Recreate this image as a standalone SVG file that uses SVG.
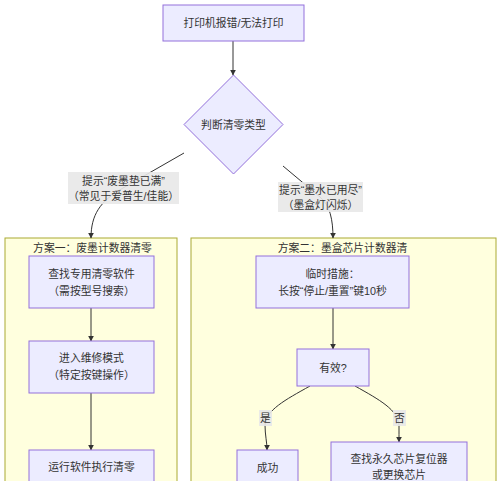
<svg xmlns="http://www.w3.org/2000/svg" width="500" height="481" viewBox="0 0 500 481">
<defs>
<marker id="arr" viewBox="0 0 10 10" refX="9" refY="5" markerWidth="6" markerHeight="6" markerUnits="userSpaceOnUse" orient="auto">
<path d="M0,0 L10,5 L0,10 z" fill="#333"/>
</marker>
</defs>
<style>
text{font-family:"Liberation Sans","Noto Sans CJK SC",sans-serif;font-size:10.8px;fill:#333;text-anchor:middle;dominant-baseline:central}
.node{fill:#ececff;stroke:#9370db;stroke-width:1}
.cluster{fill:#ffffde;stroke:#aaaa33;stroke-width:1}
.edge{fill:none;stroke:#333;stroke-width:1;marker-end:url(#arr)}
.lbl{fill:#e8e8e8;opacity:0.9}
</style>
<rect width="500" height="481" fill="#fff"/>
<g id="cluster1"><rect class="cluster" x="5" y="238" width="172" height="260"/><text x="92.5" y="248">方案一：废墨计数器清零</text></g>
<g id="cluster2"><rect class="cluster" x="191" y="238" width="305" height="260"/><text x="342.5" y="248">方案二：墨盒芯片计数器清</text></g>
<g id="connectors">
<path class="edge" d="M233,41 L233,75"/>
<path class="edge" d="M184,153 L123,188 C100,201 91,215 91,238"/>
<path class="edge" d="M283,166 L320,197 C330,205 333,220 333,238"/>
<path class="edge" d="M91,308 L91,341"/>
<path class="edge" d="M91,393 L91,450"/>
<path class="edge" d="M333,308 L333,349"/>
<path class="edge" d="M310,386 C285,400 266,410 265,425 C265,435 267,442 267,450"/>
<path class="edge" d="M355,386 C380,400 398,410 399,425 C399,432 399,438 399,442"/>
</g>
<g id="label-left"><rect class="lbl" x="68" y="172" width="111" height="32"/><text x="123.5" y="181">提示“废墨垫已满”</text><text x="123.5" y="196">（常见于爱普生/佳能）</text></g>
<g id="label-right"><rect class="lbl" x="278" y="182" width="85" height="30"/><text x="320.5" y="190">提示“墨水已用尽”</text><text x="320.5" y="205">（墨盒灯闪烁）</text></g>
<g id="label-yes"><rect class="lbl" x="259" y="410" width="13" height="16"/><text x="265.5" y="418">是</text></g>
<g id="label-no"><rect class="lbl" x="393" y="410" width="13" height="16"/><text x="399.5" y="418">否</text></g>
<g id="start"><rect class="node" x="163" y="5" width="141" height="36"/><text x="233.5" y="23">打印机报错/无法打印</text></g>
<g id="decide"><polygon class="node" points="233.5,75 283,124.5 233.5,174 184,124.5"/><text x="233.5" y="124.5">判断清零类型</text></g>
<g id="n1"><rect class="node" x="29" y="256" width="125" height="52"/><text x="91.5" y="274">查找专用清零软件</text><text x="91.5" y="291">（需按型号搜索）</text></g>
<g id="n2"><rect class="node" x="29" y="341" width="125" height="52"/><text x="91.5" y="358">进入维修模式</text><text x="91.5" y="375">（特定按键操作）</text></g>
<g id="n3"><rect class="node" x="29" y="450" width="125" height="52"/><text x="91.5" y="467">运行软件执行清零</text></g>
<g id="a1"><rect class="node" x="256" y="256" width="153" height="52"/><text x="332.5" y="274">临时措施：</text><text x="332.5" y="291">长按“停止/重置”键10秒</text></g>
<g id="valid"><rect class="node" x="297" y="349" width="72" height="37"/><text x="333" y="367.5">有效?</text></g>
<g id="ok"><rect class="node" x="237" y="450" width="61" height="52"/><text x="267.5" y="468">成功</text></g>
<g id="fix"><rect class="node" x="331" y="442" width="136" height="52"/><text x="399" y="459">查找永久芯片复位器</text><text x="399" y="475">或更换芯片</text></g>
</svg>
